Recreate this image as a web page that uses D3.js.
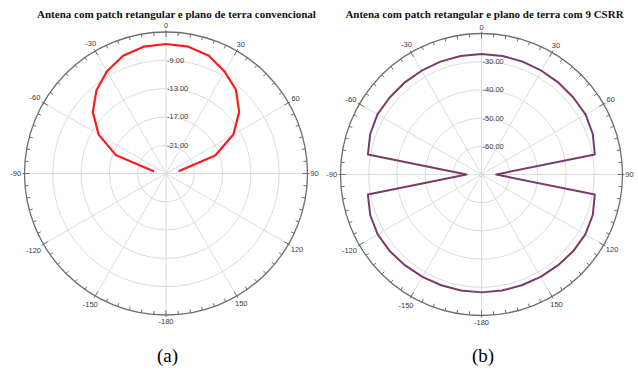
<!DOCTYPE html>
<html>
<head>
<meta charset="utf-8">
<script src="https://cdn.jsdelivr.net/npm/d3@7"></script>
<style>
html,body{margin:0;padding:0;background:#fff;}
svg{display:block;}
</style>
</head>
<body>
<svg id="c" width="638" height="372"></svg>
<script>
// ---- data ----
const leftTitle = "Antena com patch retangular e plano de terra convencional";
const rightTitle = "Antena com patch retangular e plano de terra com 9 CSRR";
const leftAngles = [-80,-70,-60,-50,-40,-30,-20,-10,0,10,20,30,40,50,60,70,80];
const leftValues = [-23.3,-17.5,-14.0,-11.5,-9.7,-8.3,-7.3,-6.8,-6.7,-6.8,-7.3,-8.4,-9.6,-11.5,-14.0,-17.6,-23.2];
const rightAngles = [-180,-170,-160,-150,-140,-130,-120,-110,-100,-90,-80,-70,-60,-50,-40,-30,-20,-10,0,10,20,30,40,50,60,70,80,90,100,110,120,130,140,150,160,170,180];
const rightValues = [-28.2,-28.2,-28.2,-28.1,-27.9,-27.6,-27.5,-28.0,-29.1,-64.7,-29.1,-28.0,-27.4,-27.5,-27.5,-27.5,-27.4,-27.3,-27.3,-27.3,-27.4,-27.5,-27.5,-27.5,-27.4,-28.0,-29.2,-64.8,-29.2,-28.0,-27.5,-27.6,-27.9,-28.1,-28.2,-28.2,-28.2];
const leftRingValues = [-21,-17,-13,-9];
const rightRingValues = [-60,-50,-40,-30];
const leftDomain = [-25,-5];
const rightDomain = [-70,-20];
const angleTickValues = [0,30,60,90,120,150,180,-150,-120,-90,-60,-30];
const angleTickLabels = ["0","30","60","90","120","150","-180","-150","-120","-90","-60","-30"];
const captions = ["(a)","(b)"];

const svg = d3.select("#c");
const rad = d => d*Math.PI/180;

function polar(cfg){
  const g = svg.append("g").attr("transform",`translate(${cfg.cx},${cfg.cy})`);
  const R = cfg.R;
  const r = d3.scaleLinear().domain(cfg.domain).range([0,R]);
  // rings
  g.selectAll("circle.ring").data(cfg.rings).join("circle")
    .attr("r",d=>r(d)).attr("fill","none").attr("stroke","#dcdcdc").attr("stroke-width",1);
  // spokes
  const spokes = d3.range(0,360,30);
  g.selectAll("line.spoke").data(spokes).join("line")
    .attr("x1",0).attr("y1",0)
    .attr("x2",d=>R*Math.sin(rad(d))).attr("y2",d=>-R*Math.cos(rad(d)))
    .attr("stroke","#dcdcdc").attr("stroke-width",1);
  // outer circle
  g.append("circle").attr("r",R).attr("fill","none").attr("stroke","#6e6e6e").attr("stroke-width",1.3);
  // ticks every 5 degrees
  const ticks = d3.range(0,360,5);
  g.selectAll("line.tick").data(ticks).join("line")
    .attr("x1",d=>{const o = d%30===0? R+2 : R; return o*Math.sin(rad(d));})
    .attr("y1",d=>{const o = d%30===0? R+2 : R; return -o*Math.cos(rad(d));})
    .attr("x2",d=>{const i = d%30===0? R-5 : R-3.5; return i*Math.sin(rad(d));})
    .attr("y2",d=>{const i = d%30===0? R-5 : R-3.5; return -i*Math.cos(rad(d));})
    .attr("stroke","#6e6e6e").attr("stroke-width",1);
  // angle labels
  const lpos = (d,i) => {
    const lbl = angleTickLabels[i]; const w = lbl.length*3.9; const h=7;
    const s=Math.abs(Math.sin(rad(d))), c=Math.abs(Math.cos(rad(d)));
    return R + 3 + (w/2)*s + (h/2)*c;
  };
  g.selectAll("text.al").data(angleTickValues).join("text")
    .attr("x",(d,i)=>lpos(d,i)*Math.sin(rad(d)))
    .attr("y",(d,i)=>-lpos(d,i)*Math.cos(rad(d)))
    .attr("text-anchor","middle").attr("dominant-baseline","central")
    .attr("font-family","Liberation Sans, Arial, sans-serif").attr("font-size",7.5)
    .attr("fill","#3a3a3a").text((d,i)=>angleTickLabels[i]);
  // ring labels
  g.selectAll("text.rl").data(cfg.rings).join("text")
    .attr("x",1).attr("y",d=>-r(d))
    .attr("dominant-baseline","central")
    .attr("font-family","Liberation Sans, Arial, sans-serif").attr("font-size",7.5)
    .attr("fill","#3a3a3a").text(d=>d.toFixed(2));
  // data line
  const pts = cfg.angles.map((a,i)=>[rad(a), r(cfg.values[i])]);
  const line = d3.lineRadial().angle(d=>d[0]).radius(d=>d[1]);
  g.append("path").attr("d",line(pts)).attr("fill","none")
    .attr("stroke",cfg.color).attr("stroke-width",cfg.sw).attr("stroke-linejoin","round");
  // title
  svg.append("text").attr("x",cfg.tx).attr("y",18).attr("text-anchor","middle")
    .attr("font-family","Liberation Serif, Times New Roman, serif").attr("font-weight","bold")
    .attr("font-size",11).attr("fill","#111").text(cfg.title);
  // caption
  svg.append("text").attr("x",cfg.cx+1.5).attr("y",362).attr("text-anchor","middle")
    .attr("font-family","Liberation Serif, Times New Roman, serif")
    .attr("font-size",19).attr("fill","#000").text(cfg.caption);
}

polar({cx:166, cy:173.5, R:141.5, domain:leftDomain, rings:leftRingValues,
  angles:leftAngles, values:leftValues, color:"#ff1a1a", sw:2.2,
  title:leftTitle, tx:176.5, caption:captions[0]});
polar({cx:481.5, cy:174.5, R:141, domain:rightDomain, rings:rightRingValues,
  angles:rightAngles, values:rightValues, color:"#7a3b68", sw:2,
  title:rightTitle, tx:484.5, caption:captions[1]});
</script>
</body>
</html>
